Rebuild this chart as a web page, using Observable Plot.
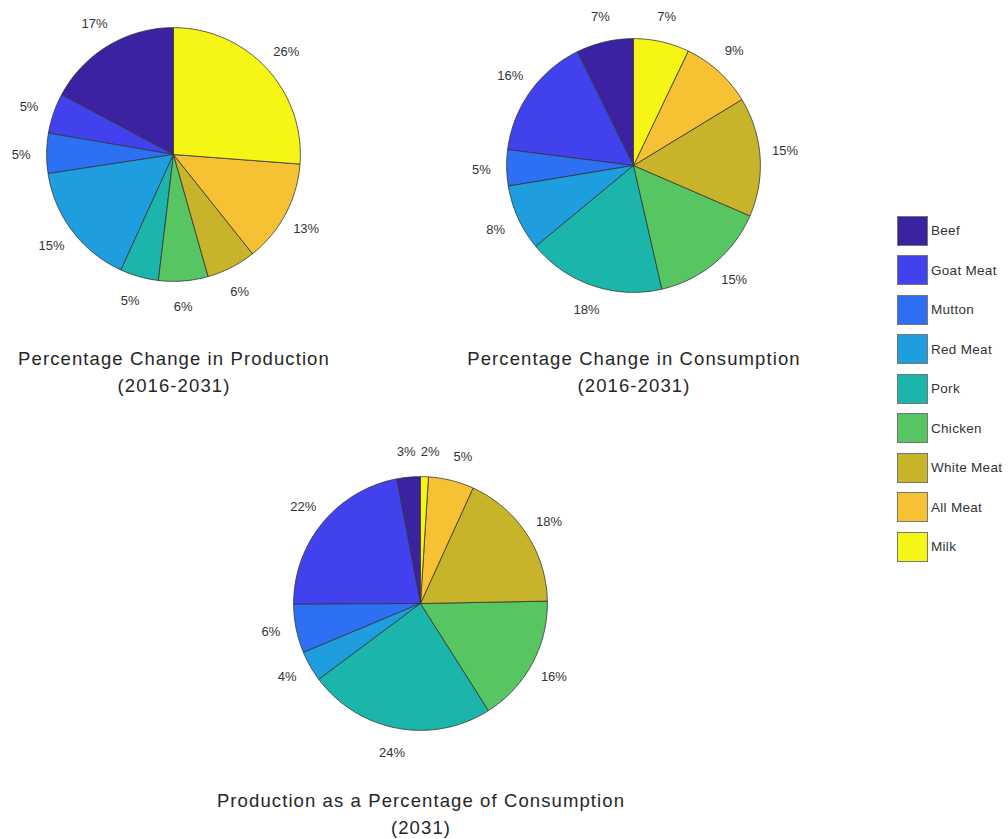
<!DOCTYPE html>
<html><head><meta charset="utf-8">
<script src="https://cdn.jsdelivr.net/npm/d3@7"></script>
<script src="https://cdn.jsdelivr.net/npm/@observablehq/plot@0.6"></script>
<style>
body{margin:0;background:#fff;font-family:"Liberation Sans",Arial,sans-serif;}
#root{position:relative;width:1008px;height:839px;overflow:hidden;background:#fff;}
.pie{position:absolute;}
.title{position:absolute;width:500px;text-align:center;font-size:18.5px;line-height:27px;color:#262626;letter-spacing:1.1px;white-space:nowrap;}
.leg{position:absolute;left:897px;height:31px;display:flex;align-items:center;font-size:13.5px;color:#333;letter-spacing:0.3px;white-space:nowrap;}
.sw{width:31px;height:30px;border:1px solid #777;margin-right:3px;box-sizing:border-box;}
</style></head>
<body><div id="root"></div>
<script>
const categories = ["Beef","Goat Meat","Mutton","Red Meat","Pork","Chicken","White Meat","All Meat","Milk"];
const palette = ["#3b22a0","#4141ee","#2d70f4","#1e9edf","#1bb5ab","#56c562","#c8b42a","#f6c132","#f6f616"];

// slice sizes
const productionShare = [17.2,5.1,5.1,15.8,4.9,6.3,6.3,13.1,26.2];
const consumptionShare = [7.3,15.7,4.6,8.4,17.6,14.9,15.2,9.2,7.1];
const ratioShare = [3.0,22.1,6.2,3.9,23.8,16.3,17.9,5.8,1.0];
// printed percentages
const productionLabels = [17,5,5,15,5,6,6,13,26];
const consumptionLabels = [7,16,5,8,18,15,15,9,7];
const ratioLabels = [3,22,6,4,24,16,18,5,2];

const titles = [
  ["Percentage Change in Production","(2016-2031)"],
  ["Percentage Change in Consumption","(2016-2031)"],
  ["Production as a Percentage of Consumption","(2031)"]
];

function piePlot(shares, labels) {
  const total = d3.sum(shares);
  const rows = [];
  let acc = 0;
  shares.forEach((v, i) => {
    const a0 = acc / total * 2 * Math.PI; acc += v;
    const a1 = acc / total * 2 * Math.PI;
    const n = Math.max(2, Math.ceil((a1 - a0) / (Math.PI / 180)));
    rows.push({cat: categories[i], x: 0, y: 0});
    for (let k = 0; k <= n; k++) {
      const a = a0 + (a1 - a0) * k / n;
      rows.push({cat: categories[i], x: -Math.sin(a), y: Math.cos(a)});
    }
    rows.push({cat: categories[i], x: 0, y: 0});
  });
  const ltotal = d3.sum(labels);
  let lacc = 0;
  const lab = labels.map((v) => {
    const m = (lacc + v / 2) / ltotal * 2 * Math.PI; lacc += v;
    return {text: v + "%", x: -1.2 * Math.sin(m), y: 1.2 * Math.cos(m)};
  });
  return Plot.plot({
    width: 340, height: 340, margin: 0,
    style: {fontFamily: "Liberation Sans, Arial, sans-serif", background: "transparent"},
    x: {domain: [-1.34, 1.34], axis: null},
    y: {domain: [-1.34, 1.34], axis: null},
    color: {domain: categories, range: palette},
    marks: [
      Plot.line(rows, {x: "x", y: "y", z: "cat", fill: "cat", stroke: "#333", strokeWidth: 0.8, strokeLinejoin: "round"}),
      Plot.text(lab, {x: "x", y: "y", text: "text", fontSize: 13, fill: "#333", fontFamily: "Liberation Sans, Arial, sans-serif"})
    ]
  });
}

const root = document.getElementById("root");
const pies = [
  {shares: productionShare, labels: productionLabels, cx: 173, cy: 154, ty: 345},
  {shares: consumptionShare, labels: consumptionLabels, cx: 633, cy: 165, ty: 345},
  {shares: ratioShare, labels: ratioLabels, cx: 420, cy: 603, ty: 787}
];
pies.forEach((p, i) => {
  const el = piePlot(p.shares, p.labels);
  el.classList.add("pie");
  el.style.left = (p.cx - 170) + "px";
  el.style.top = (p.cy - 170) + "px";
  root.appendChild(el);
  const t = document.createElement("div");
  t.className = "title";
  t.style.left = (p.cx + 1 - 250) + "px";
  t.style.top = p.ty + "px";
  t.innerHTML = titles[i].join("<br>");
  root.appendChild(t);
});

categories.forEach((c, i) => {
  const d = document.createElement("div");
  d.className = "leg";
  d.style.top = (215 + i * 39.5) + "px";
  const s = document.createElement("div");
  s.className = "sw";
  s.style.background = palette[i];
  d.appendChild(s);
  d.appendChild(document.createTextNode(c));
  root.appendChild(d);
});
</script>
</body></html>
